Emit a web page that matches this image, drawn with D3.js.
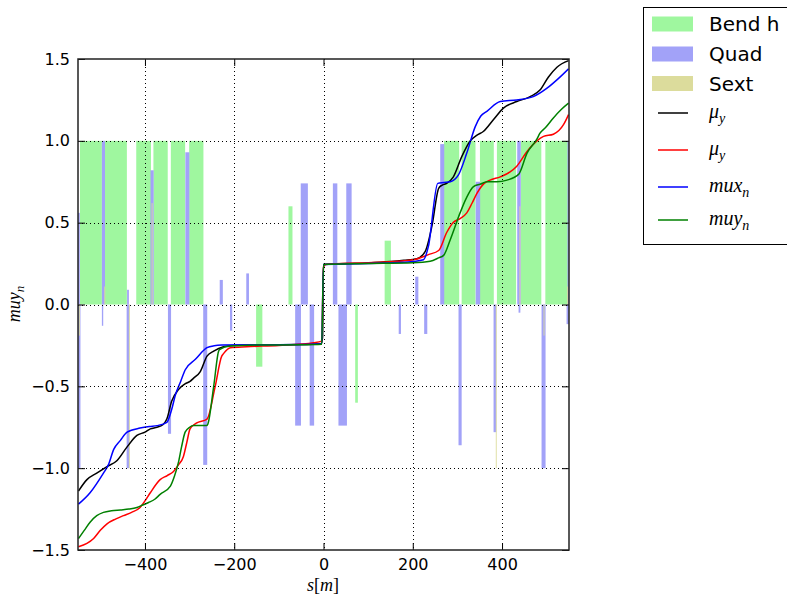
<!DOCTYPE html>
<html>
<head>
<meta charset="utf-8">
<script src="https://cdnjs.cloudflare.com/ajax/libs/d3/7.8.5/d3.min.js"></script>
<style>
  body { margin: 0; background: #fff; }
  text { font-family: "DejaVu Sans", sans-serif; }
  .math { font-family: "Liberation Serif", "DejaVu Serif", serif; font-style: italic; }
</style>
</head>
<body>
<div id="chart"></div>
<script>
// element bars: centre s [m], length [m], height
const bendS = [-521, -465, -403, -365, -326, -285, 287, 325, 366, 410, 465, 523];
const bendW = [49, 49, 33, 32, 32, 32, 34, 31, 31, 43, 46, 52];
const bendH = [1, 1, 1, 1, 1, 1, 1, 1, 1, 1, 1, 1];
const bendS2 = [-144, -74, 74, 144];
const bendW2 = [14, 9, 6, 14];
const bendH2 = [-0.38, 0.6, -0.6, 0.39];

const quadS = [-548, -547, -493, -495, -438, -438, -384, -345, -305, -265, -229, -207, -170,
               -57, -43, -26, 26, 43, 57, 171, 209, 229, 266, 306, 346, 384, 438, 439, 493, 548, 547];
const quadW = [4, 5, 7, 3, 4, 6, 7, 7, 9, 9, 7, 5, 6,
               13, 16, 10, 10, 19, 12, 5, 7, 7, 9, 7, 10, 6, 8, 4, 9, 3, 5];
const quadH = [0.56, -1.0, 1.0, -0.13, 0.09, -1.0, 0.82, -0.79, 0.93, -0.98, 0.15, -0.16, 0.19,
               -0.74, 0.74, -0.74, 0.74, -0.74, 0.74, -0.18, 0.17, -0.18, 0.98, -0.86, 0.75, -0.78, 1.0, -0.05, -1.0, 1.0, -0.12];

const sextS = [-547, -490, -435, -384, 387, 440, 494, 547];
const sextH = [-0.19, 0.11, -1.0, 0.62, -1.0, 0.6, -0.19, 0.11];
const sextW = [2, 2, 2, 2, 2, 2, 2, 2];

// phase advance curves
const muy1S = [-549, -530, -508, -485, -463, -440, -418, -400, -388, -373, -360, -351, -340, -325, -310, -299, -291, -276, -261, -246, -224, -202, -150, -100, -50, -5, -2, 0, 50, 100, 150, 180, 209, 228, 243, 258, 266, 276, 291, 310, 329, 344, 358, 381, 403, 433, 463, 485, 504, 523, 549];
const muy1V = [-1.14, -1.07, -1.03, -0.99, -0.955, -0.87, -0.80, -0.78, -0.76, -0.75, -0.735, -0.70, -0.59, -0.52, -0.485, -0.47, -0.45, -0.41, -0.315, -0.285, -0.258, -0.25, -0.247, -0.246, -0.245, -0.24, -0.20, 0.245, 0.25, 0.254, 0.262, 0.27, 0.28, 0.325, 0.48, 0.71, 0.73, 0.74, 0.78, 0.905, 1.0, 1.035, 1.057, 1.13, 1.2, 1.24, 1.27, 1.31, 1.39, 1.45, 1.49];

const muy2S = [-549, -530, -515, -500, -485, -465, -448, -430, -411, -400, -388, -366, -350, -336, -325, -314, -306, -299, -285, -261, -243, -228, -224, -209, -172, -100, -22, -4, 0, 5, 100, 202, 235, 258, 276, 290, 306, 321, 333, 344, 360, 373, 396, 418, 433, 456, 478, 493, 515, 538, 549];
const muy2V = [-1.48, -1.46, -1.43, -1.38, -1.34, -1.31, -1.29, -1.27, -1.24, -1.2, -1.15, -1.07, -1.045, -1.02, -0.98, -0.93, -0.84, -0.76, -0.725, -0.70, -0.505, -0.315, -0.3, -0.264, -0.258, -0.25, -0.234, -0.224, 0.23, 0.245, 0.255, 0.274, 0.305, 0.33, 0.44, 0.50, 0.525, 0.56, 0.62, 0.68, 0.74, 0.76, 0.78, 0.81, 0.845, 0.935, 1.0, 1.027, 1.04, 1.10, 1.16];

const muxnS = [-549, -523, -493, -482, -470, -455, -440, -411, -390, -373, -351, -340, -332, -320, -310, -287, -261, -245, -228, -150, -50, -4, 0, 100, 180, 224, 235, 256, 270, 284, 302, 321, 340, 352, 366, 396, 433, 470, 500, 526, 549];
const muxnV = [-1.22, -1.15, -1.03, -0.98, -0.885, -0.83, -0.78, -0.755, -0.745, -0.74, -0.72, -0.64, -0.555, -0.47, -0.40, -0.335, -0.264, -0.252, -0.248, -0.246, -0.245, -0.24, 0.245, 0.25, 0.258, 0.274, 0.355, 0.74, 0.745, 0.75, 0.79, 0.925, 1.087, 1.15, 1.18, 1.24, 1.25, 1.27, 1.32, 1.38, 1.44];

const muynS = [-549, -536, -523, -508, -493, -475, -455, -436, -418, -405, -392, -378, -366, -343, -334, -325, -318, -310, -300, -291, -261, -259, -246, -235, -233, -209, -150, -50, -4, 0, 100, 200, 239, 258, 269, 284, 306, 320, 336, 351, 366, 388, 411, 437, 456, 478, 485, 497, 515, 532, 549];
const muynV = [-1.43, -1.38, -1.33, -1.29, -1.27, -1.26, -1.255, -1.25, -1.24, -1.225, -1.21, -1.19, -1.16, -1.11, -1.05, -0.965, -0.87, -0.78, -0.75, -0.74, -0.74, -0.73, -0.50, -0.285, -0.275, -0.254, -0.248, -0.246, -0.243, 0.245, 0.25, 0.255, 0.264, 0.285, 0.30, 0.396, 0.56, 0.65, 0.72, 0.735, 0.75, 0.75, 0.76, 0.795, 0.925, 1.01, 1.047, 1.08, 1.14, 1.19, 1.23];

const xTicks = [-400, -200, 0, 200, 400];
const yTicks = [-1.5, -1.0, -0.5, 0.0, 0.5, 1.0, 1.5];

const width = 787, height = 597;
const plot = { left: 78, right: 569, top: 59, bottom: 550 };

const svg = d3.select("#chart").append("svg")
    .attr("width", width)
    .attr("height", height);

const x = d3.scaleLinear().domain([-550, 550]).range([plot.left, plot.right]);
const y = d3.scaleLinear().domain([-1.5, 1.5]).range([plot.bottom, plot.top]);

svg.append("defs").append("clipPath").attr("id", "clip")
    .append("rect")
    .attr("x", plot.left).attr("y", plot.top)
    .attr("width", plot.right - plot.left).attr("height", plot.bottom - plot.top);

const g = svg.append("g").attr("clip-path", "url(#clip)");

function drawBars(sArr, wArr, hArr, color) {
    const rows = sArr.map((s, i) => ({ s: s, w: wArr[i], h: hArr[i] }));
    g.append("g").selectAll("rect")
        .data(rows)
        .join("rect")
        .attr("x", d => x(d.s - d.w / 2))
        .attr("width", d => x(d.s + d.w / 2) - x(d.s - d.w / 2))
        .attr("y", d => y(Math.max(0, d.h)))
        .attr("height", d => Math.abs(y(d.h) - y(0)))
        .attr("fill", color);
}

drawBars(bendS, bendW, bendH, "#9ff79f");
drawBars(bendS2, bendW2, bendH2, "#9ff79f");
drawBars(quadS, quadW, quadH, "#a2a2f8");
drawBars(sextS, sextW, sextH, "#dcdc9c");

// dotted grid
const grid = svg.append("g")
    .attr("stroke", "#000")
    .attr("stroke-width", 1)
    .attr("stroke-dasharray", "1,3");
grid.selectAll("line.gx")
    .data(xTicks)
    .join("line")
    .attr("x1", d => Math.round(x(d)) + 0.5).attr("x2", d => Math.round(x(d)) + 0.5)
    .attr("y1", plot.top).attr("y2", plot.bottom);
grid.selectAll("line.gy")
    .data(yTicks.slice(1, -1))
    .join("line")
    .attr("y1", d => Math.round(y(d)) + 0.5).attr("y2", d => Math.round(y(d)) + 0.5)
    .attr("x1", plot.left).attr("x2", plot.right);

// curves
const series = [
    { s: muy1S, v: muy1V, color: "#000000" },
    { s: muy2S, v: muy2V, color: "#ff0000" },
    { s: muxnS, v: muxnV, color: "#0000ff" },
    { s: muynS, v: muynV, color: "#008000" }
];
const line = d3.line()
    .x(d => x(d[0]))
    .y(d => y(d[1]))
    .curve(d3.curveMonotoneX);
series.forEach(sr => {
    g.append("path")
        .datum(sr.s.map((s, i) => [s, sr.v[i]]))
        .attr("fill", "none")
        .attr("stroke", sr.color)
        .attr("stroke-width", 1.5)
        .attr("d", line);
});

// axes with inward ticks
const xAxis = svg.append("g")
    .attr("transform", `translate(0,${plot.bottom})`)
    .call(d3.axisBottom(x).tickValues(xTicks).tickSize(-7).tickPadding(9).tickFormat(d3.format("d")));
svg.append("g")
    .attr("transform", `translate(0,${plot.top})`)
    .call(d3.axisTop(x).tickValues(xTicks).tickSize(-7).tickFormat(""));
const yAxis = svg.append("g")
    .attr("transform", `translate(${plot.left},0)`)
    .call(d3.axisLeft(y).tickValues(yTicks).tickSize(-7).tickPadding(8).tickFormat(d3.format(".1f")));
svg.append("g")
    .attr("transform", `translate(${plot.right},0)`)
    .call(d3.axisRight(y).tickValues(yTicks).tickSize(-7).tickFormat(""));

svg.selectAll(".domain").remove();
svg.selectAll(".tick line").attr("stroke", "#000").attr("stroke-width", 1);
svg.selectAll(".tick text")
    .attr("fill", "#000")
    .style("font-size", "16px")
    .style("font-family", "DejaVu Sans");

svg.append("rect")
    .attr("x", plot.left).attr("y", plot.top)
    .attr("width", plot.right - plot.left).attr("height", plot.bottom - plot.top)
    .attr("fill", "none")
    .attr("stroke", "#222")
    .attr("stroke-width", 1.5);

// axis labels
const xl = svg.append("text")
    .attr("class", "math")
    .attr("x", 323).attr("y", 591)
    .attr("text-anchor", "middle")
    .style("font-size", "18px");
xl.append("tspan").text("s");
xl.append("tspan").style("font-style", "normal").text("[");
xl.append("tspan").text("m");
xl.append("tspan").style("font-style", "normal").text("]");

const yl = svg.append("text")
    .attr("class", "math")
    .attr("transform", "translate(20,304) rotate(-90)")
    .attr("text-anchor", "middle")
    .style("font-size", "18px");
yl.append("tspan").text("muy");
yl.append("tspan").attr("dy", 4).style("font-size", "13px").text("n");

// legend
const legend = svg.append("g");
legend.append("rect")
    .attr("x", 643.5).attr("y", 7.5)
    .attr("width", 160).attr("height", 237)
    .attr("fill", "#fff")
    .attr("stroke", "#000")
    .attr("stroke-width", 1);

const patchItems = [
    { label: "Bend h", color: "#9ff79f", cy: 24 },
    { label: "Quad", color: "#a2a2f8", cy: 54 },
    { label: "Sext", color: "#dcdc9c", cy: 83.5 }
];
patchItems.forEach(it => {
    legend.append("rect")
        .attr("x", 652).attr("y", it.cy - 7.5)
        .attr("width", 41).attr("height", 15)
        .attr("fill", it.color);
    legend.append("text")
        .attr("x", 709).attr("y", it.cy + 7)
        .style("font-size", "20px")
        .attr("fill", "#000")
        .text(it.label);
});

const lineItems = [
    { base: "\u03bc", sub: "y", color: "#000000", cy: 113 },
    { base: "\u03bc", sub: "y", color: "#ff0000", cy: 150 },
    { base: "mux", sub: "n", color: "#0000ff", cy: 187 },
    { base: "muy", sub: "n", color: "#008000", cy: 220 }
];
lineItems.forEach(it => {
    legend.append("line")
        .attr("x1", 658).attr("x2", 688)
        .attr("y1", it.cy).attr("y2", it.cy)
        .attr("stroke", it.color)
        .attr("stroke-width", 1.5);
    const t = legend.append("text")
        .attr("class", "math")
        .attr("x", 709).attr("y", it.cy + 5)
        .style("font-size", "20px");
    t.append("tspan").text(it.base);
    t.append("tspan").attr("dy", 5).style("font-size", "14px").text(it.sub);
});
</script>
</body>
</html>
